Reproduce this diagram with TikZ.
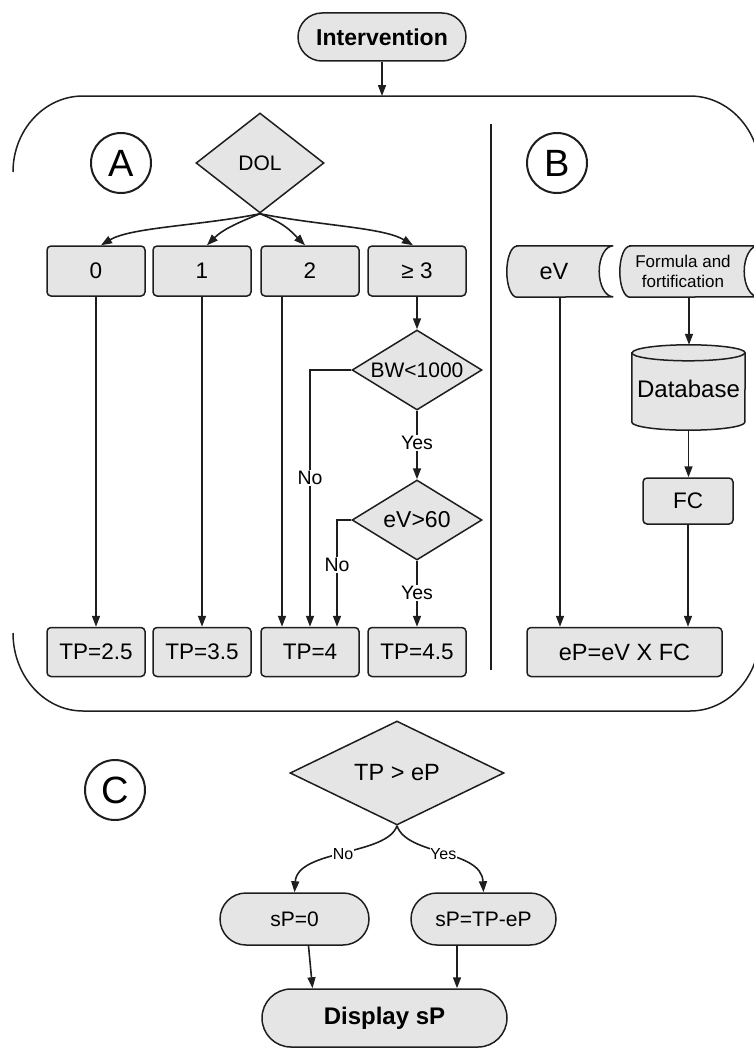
\documentclass[tikz,border=0pt]{standalone}
\usepackage{fontspec}
\setmainfont{Liberation Sans}
\usetikzlibrary{shapes.geometric,shapes.misc,arrows.meta,calc}
\definecolor{fillg}{RGB}{229,229,229}
\definecolor{lineg}{RGB}{30,30,30}
\newcommand\myfs[1]{\fontsize{#1}{#1}\selectfont}
\newcommand\tapeshape[1]{%
  \path[draw=lineg, fill=fillg, line width=1.5pt]
   ($(#1.north west)+(10pt,0)$) -- (#1.north east)
   arc[start angle=90, end angle=270, x radius=14pt, y radius=25.5pt]
   -- ($(#1.south west)+(10pt,0)$)
   arc[start angle=270, end angle=90, x radius=10pt, y radius=25.5pt] -- cycle;}
\begin{document}
\begin{tikzpicture}[x=1pt,y=1pt,
  >={Triangle[length=11pt,width=8pt]},
  base/.style={draw=lineg, fill=fillg, line width=1.5pt, inner sep=0pt, font=\myfs{22.5}},
  box/.style={base, rectangle, rounded corners=4pt, minimum width=98pt, minimum height=50pt},
  dia/.style={base, diamond},
  stad/.style={base, rounded rectangle},
  lett/.style={circle, draw=lineg, line width=2pt, minimum size=60pt, inner sep=0pt, font=\myfs{38}},
  conn/.style={->, draw=lineg, line width=1.6pt},
  lbl/.style={fill=white, inner sep=1.5pt, font=\myfs{19.5}},
  txt/.style={inner sep=0pt, font=\myfs{22.5}},
  ghost/.style={inner sep=0pt, draw=none, fill=none},
]
\useasboundingbox (0,0) rectangle (754,-1049);
\clip (0,0) rectangle (754,-1049);

% container
\draw[draw=lineg, line width=1.5pt] (13,-172)
  arc[start angle=180, end angle=90, x radius=70pt, y radius=76pt] -- (690,-96)
  arc[start angle=90, end angle=0, x radius=70pt, y radius=76pt] -- (760,-633)
  arc[start angle=0, end angle=-90, x radius=70pt, y radius=78pt] -- (83,-711)
  arc[start angle=270, end angle=180, x radius=70pt, y radius=78pt];
\draw[draw=lineg, line width=1.5pt] (491,-124) -- (491,-670);

% top
\node[stad, minimum width=168pt, minimum height=48pt, font=\myfs{23}\bfseries] (int) at (382,-37) {Intervention};
\coordinate (ctop) at (382,-96);
\draw[conn] (int) -- (ctop);

% letters
\node[lett] (A) at (121,-163) {A};
\node[lett] (B) at (557,-163) {B};
\node[lett] (C) at (115,-790) {C};

% section A
\node[dia, minimum width=128pt, minimum height=100pt, aspect=1.28, font=\myfs{21}] (dol) at (260,-163) {DOL};
\node[box] (b0) at (96,-271) {0};
\node[box] (b1) at (202,-271) {1};
\node[box] (b2) at (310,-271) {2};
\node[box] (b3) at (417,-271) {≥ 3};

\draw[conn] (dol.south) .. controls +(-60,-12) and +(30,18) .. ($(b0.north)+(5,0)$);
\draw[conn] (dol.south) .. controls +(-25,-10) and +(15,15) .. ($(b1.north)+(5,0)$);
\draw[conn] (dol.south) .. controls +(25,-10) and +(-15,15) .. ($(b2.north)+(-5,0)$);
\draw[conn] (dol.south) .. controls +(60,-12) and +(-30,18) .. ($(b3.north)+(-4,0)$);

\node[box, minimum height=49pt] (t0) at (96,-652) {TP=2.5};
\node[box, minimum height=49pt] (t1) at (202,-652) {TP=3.5};
\node[box, minimum height=49pt] (t2) at (310,-652) {TP=4};
\node[box, minimum height=49pt] (t3) at (417,-652) {TP=4.5};

\node[dia, minimum width=130pt, minimum height=80pt, aspect=1.625, font=\myfs{21}] (bw) at (417,-370) {BW<1000};
\node[dia, minimum width=130pt, minimum height=80pt, aspect=1.625, font=\myfs{23}] (ev6) at (417,-520) {eV>60};

\draw[conn] (b0.south) -- (b0.south |- t0.north);
\draw[conn] (b1.south) -- (b1.south |- t1.north);
\draw[conn] ($(b2.south)+(-28,0)$) -- ($(t2.north)+(-28,0)$);
\draw[conn] (b3.south) -- (bw.north);
\draw[conn] (bw.west) -| node[lbl, pos=0.71]{No} (t2.north);
\draw[conn] (bw.south) -- node[lbl, pos=0.47]{Yes} (ev6.north);
\draw[conn] (ev6.west) -| node[lbl, pos=0.71]{No} ($(t2.north)+(27,0)$);
\draw[conn] (ev6.south) -- node[lbl, pos=0.49]{Yes} (t3.north);

% section B
\node[ghost, minimum width=106pt, minimum height=51pt] (ev) at (560,-271.5) {};
\node[ghost, minimum width=138pt, minimum height=51pt] (fm) at (689,-271.5) {};
\tapeshape{ev}
\tapeshape{fm}
\node[txt, font=\myfs{23.5}] (evt) at ($(ev.center)+(-6,0)$) {eV};
\node[txt, font=\fontsize{17}{19.5}\selectfont, align=center] (fmt) at ($(fm.center)+(-6,0)$) {Formula and\\fortification};

\node[ghost, minimum width=113pt, minimum height=85pt] (db) at (688.5,-387.5) {};
\path[draw=lineg, fill=fillg, line width=1.5pt] ($(db.north west)+(0,-8)$) -- ($(db.south west)+(0,8)$)
  arc[start angle=180, end angle=360, x radius=56.5pt, y radius=8pt] -- ($(db.north east)+(0,-8)$)
  arc[start angle=0, end angle=180, x radius=56.5pt, y radius=8pt] -- cycle;
\draw[draw=lineg, line width=1.5pt] ($(db.north west)+(0,-8)$) arc[start angle=180, end angle=360, x radius=56.5pt, y radius=8pt];
\node[txt, font=\myfs{24}] (dbt) at ($(db.center)+(0,-1)$) {Database};

\node[box, minimum width=90pt, minimum height=46pt] (fc) at (688,-501) {FC};
\node[box, minimum width=195pt, minimum height=49pt, font=\myfs{23.5}] (ep) at (624.5,-652) {eP=eV X FC};

\draw[conn] (fm.south) -- (fm.south |- db.north);
\draw[conn] (db.south) -- (db.south |- fc.north);
\draw[conn] (fc.south) -- (fc.south |- ep.north);
\draw[conn] (ev.south) -- (ev.south |- ep.north);

% section C
\node[dia, minimum width=214pt, minimum height=104pt, aspect=2.06, font=\myfs{23.5}] (tp) at (397,-773) {TP > eP};
\node[stad, minimum width=149pt, minimum height=52pt, font=\myfs{21}] (sp0) at (294.5,-919) {sP=0};
\node[stad, minimum width=145pt, minimum height=52pt, font=\myfs{21}] (spd) at (483.5,-919) {sP=TP-eP};
\node[stad, minimum width=245pt, minimum height=58pt, font=\myfs{24}\bfseries] (dsp) at (384.5,-1018) {Display sP};

\draw[conn] (tp.south) .. controls +(-10,-30) and +(3,43) .. node[lbl, inner sep=0.5pt, font=\myfs{16}, pos=0.5]{No} (sp0.north);
\draw[conn] (tp.south) .. controls +(10,-30) and +(-2,43) .. node[lbl, inner sep=0.5pt, font=\myfs{16}, pos=0.5]{Yes} (spd.north);
\draw[conn] ($(sp0.south)+(14,0)$) -- ($(dsp.north)+(-72,0)$);
\draw[conn] ($(spd.south)+(-26.5,0)$) -- ($(dsp.north)+(72.5,0)$);
\end{tikzpicture}
\end{document}
